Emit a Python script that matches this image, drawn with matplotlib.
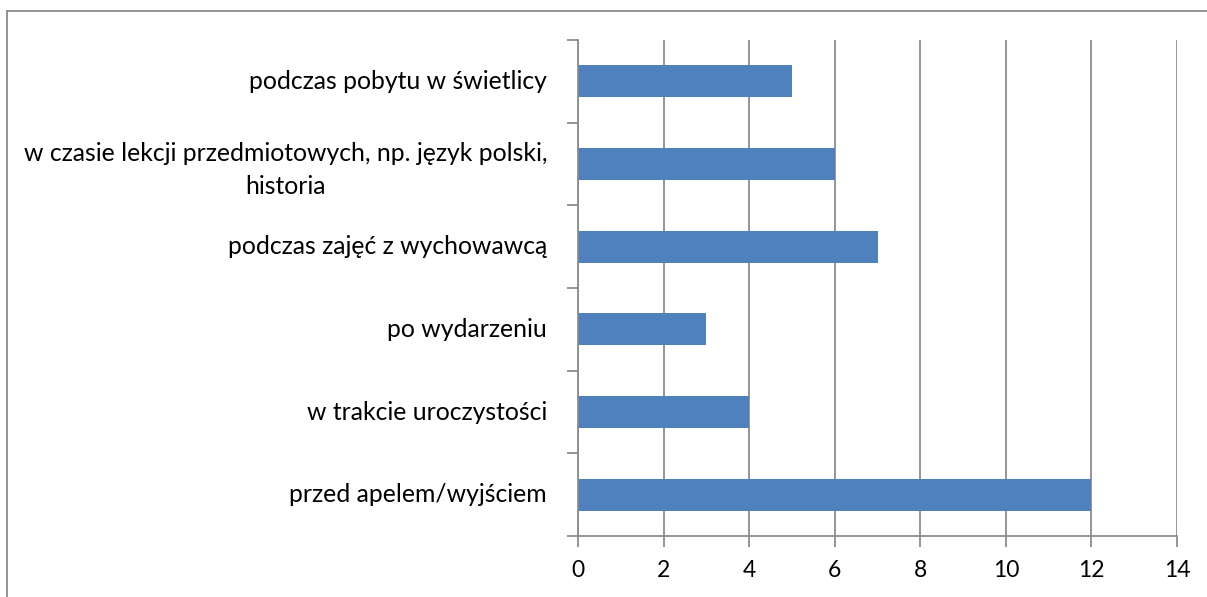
import matplotlib
matplotlib.use("Agg")
import matplotlib.pyplot as plt
from matplotlib.lines import Line2D
from matplotlib.transforms import ScaledTranslation, blended_transform_factory
import numpy as np

categories = [
    "przed apelem/wyjściem",
    "w trakcie uroczystości",
    "po wydarzeniu",
    "podczas zajęć z wychowawcą",
    "w czasie lekcji przedmiotowych, np. język polski,\nhistoria",
    "podczas pobytu w świetlicy",
]
values = [12, 4, 3, 7, 6, 5]
x_ticks = [0, 2, 4, 6, 8, 10, 12, 14]

plt.rcParams['font.family'] = ['Lato', 'DejaVu Sans']

W, H = 1207, 597
fig = plt.figure(figsize=(W / 100, H / 100), dpi=100)
ax = fig.add_axes([578 / W, 1 - 536 / H, (1177 - 578) / W, (536 - 40) / H])

grid_c = "#8c8c8c"
ypos = np.arange(len(categories))
ax.barh(ypos, values, height=0.39, color="#4F81BD", zorder=3)

ax.set_xlim(0, 14)
ax.set_ylim(-0.5, len(categories) - 0.5)
ax.set_xticks(x_ticks)
ax.set_xticklabels([str(t) for t in x_ticks], fontsize=16.5)
ax.set_yticks(ypos)
ax.set_yticklabels([""] * len(categories))
ax.set_yticks(np.arange(-0.5, len(categories), 1.0), minor=True)

ax.tick_params(axis="y", which="major", length=0)
ax.tick_params(axis="y", which="minor", length=8, color=grid_c, width=1.3)
ax.tick_params(axis="x", which="major", length=8, color=grid_c, width=1.3, pad=9)

# category labels: right-aligned, multi-line labels centred line by line
base = blended_transform_factory(ax.transAxes, ax.transData)
for y, lab in zip(ypos, categories):
    dy = -6 / 100 if "\n" in lab else 0
    tr = base + ScaledTranslation(-31 / 100, dy, fig.dpi_scale_trans)
    ax.text(0, y, lab, transform=tr, ha="right", va="center", multialignment="center",
            fontsize=17.8, linespacing=1.5, color="black")

ax.grid(axis="x", color=grid_c, linewidth=1.3, zorder=0)
for s in ["top", "right"]:
    ax.spines[s].set_visible(False)
for s in ["left", "bottom"]:
    ax.spines[s].set_color(grid_c)
    ax.spines[s].set_linewidth(1.3)
    ax.spines[s].set_zorder(4)

# figure border (top and left visible)
bc = "#8a8a8a"
fig.add_artist(Line2D([7 / W, 1.0], [1 - 11 / H, 1 - 11 / H], transform=fig.transFigure, color=bc, linewidth=1.3))
fig.add_artist(Line2D([7 / W, 7 / W], [1 - 11 / H, 0.0], transform=fig.transFigure, color=bc, linewidth=1.3))

fig.savefig("out.png", dpi=100)
